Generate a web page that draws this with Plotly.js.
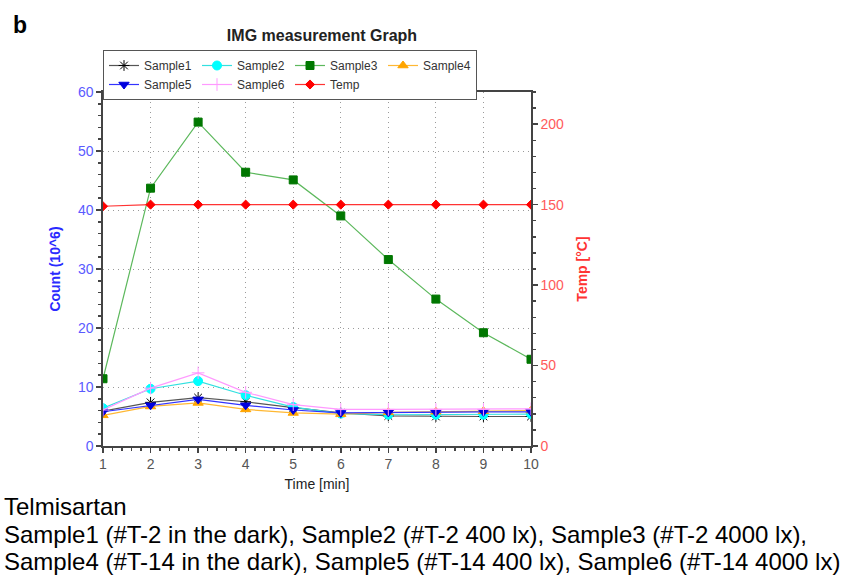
<!DOCTYPE html>
<html>
<head>
<meta charset="utf-8">
<script src="https://cdn.plot.ly/plotly-3.0.1.min.js"></script>
<style>html,body{margin:0;padding:0;background:#fff;}#chart{width:857px;height:577px;}</style>
</head>
<body>
<div id="chart"></div>
<script>
const time = [1, 2, 3, 4, 5, 6, 7, 8, 9, 10];
const sample1 = [5.9, 7.4, 8.2, 7.5, 6.5, 5.6, 5.1, 5.0, 5.0, 5.0];
const sample2 = [6.4, 9.7, 11.0, 8.6, 6.6, 5.5, 5.3, 5.3, 5.3, 5.4];
const sample3 = [11.4, 43.7, 54.9, 46.4, 45.1, 39.0, 31.6, 24.9, 19.2, 14.7];
const sample4 = [5.2, 6.7, 7.3, 6.2, 5.6, 5.4, 5.7, 5.8, 5.9, 6.0];
const sample5 = [5.8, 6.9, 7.9, 6.9, 6.1, 5.6, 5.7, 5.7, 5.8, 5.8];
const sample6 = [6.1, 9.8, 12.4, 9.1, 7.0, 6.2, 6.2, 6.2, 6.2, 6.3];
const temp = [149, 150, 150, 150, 150, 150, 150, 150, 150, 150];
const names = ["Sample1", "Sample2", "Sample3", "Sample4", "Sample5", "Sample6", "Temp"];
const leftTicks = [0, 10, 20, 30, 40, 50, 60];
const rightTicks = [0, 50, 100, 150, 200];

const FONT = "Liberation Sans, Arial, sans-serif";

function tr(name, y, lineColor, mColor, symbol, size, axis, lineW) {
  return {
    x: time, y: y, name: name, type: "scatter", mode: "lines+markers",
    yaxis: axis || "y",
    line: {color: lineColor, width: lineW || 1.2},
    marker: {color: mColor, symbol: symbol, size: size, line: {color: mColor, width: 1}}
  };
}

const data = [
  tr(names[0], sample1, "#555555", "#000000", "asterisk-open", 9),
  tr(names[1], sample2, "#33e0e0", "#00ffff", "circle", 9),
  tr(names[2], sample3, "#5cb85c", "#007700", "square", 8),
  tr(names[3], sample4, "#ffb833", "#ffa500", "triangle-up", 9),
  tr(names[4], sample5, "#3333ff", "#0000dd", "triangle-down", 9),
  tr(names[5], sample6, "#ff99ff", "#ff99ff", "cross-thin-open", 9),
  tr(names[6], temp, "#ff3333", "#ff0000", "diamond", 7, "y2")
];

const W = 857, H = 577, L = 103, R = 531, T = 92, B = 446;
const pw = R - L, ph = B - T;
const px = v => (v - L) / pw;
const py = v => (B - v) / ph;

const GRID = {showgrid: true, gridcolor: "#9a9a9a", griddash: "1px,4px", gridwidth: 1};
const AX = {showline: true, linecolor: "#444", linewidth: 1.6, ticks: "outside", ticklen: 5, tickcolor: "#444", tickwidth: 1.5, zeroline: false};
// companion axes: same scales, ticks drawn inside so the ticks cross the axis lines
const INNER = {showline: false, showgrid: false, zeroline: false, showticklabels: false,
               ticks: "inside", ticklen: 4, tickcolor: "#444", tickwidth: 1.5};

const layout = {
  width: W, height: H,
  margin: {l: L, r: W - R, t: T, b: H - B, pad: 0},
  paper_bgcolor: "#ffffff", plot_bgcolor: "#ffffff",
  font: {family: FONT, size: 12, color: "#444"},
  title: {text: "IMG measurement Graph", x: 322 / W, xanchor: "center", y: 1 - 35 / H, yanchor: "middle",
          font: {family: FONT, size: 16, color: "#222", weight: "bold"}},
  showlegend: true,
  legend: {
    orientation: "h", x: 0, xanchor: "left", y: py(50), yanchor: "top",
    bordercolor: "#555", borderwidth: 1, bgcolor: "#fff",
    font: {family: FONT, size: 12, color: "#333"},
    entrywidth: 48, itemwidth: 30, tracegroupgap: 0, traceorder: "normal"
  },
  xaxis: Object.assign({}, AX, GRID, {
    range: [1, 10], tickmode: "array", tickvals: time, ticktext: time.map(String),
    mirror: true,
    minor: {dtick: 0.2, ticks: "outside", ticklen: 3, tickcolor: "#444", showgrid: false},
    tickfont: {family: FONT, size: 14, color: "#555"},
    title: {text: "Time [min]", standoff: 8, font: {family: FONT, size: 14, color: "#222"}}
  }),
  xaxis2: Object.assign({}, INNER, {
    range: [1, 10], overlaying: "x", anchor: "y", side: "bottom",
    tickmode: "array", tickvals: time,
    minor: {dtick: 0.2, ticks: "inside", ticklen: 3, tickcolor: "#444", showgrid: false}
  }),
  yaxis: Object.assign({}, AX, GRID, {
    range: [0, 60], tickmode: "array", tickvals: leftTicks, ticktext: leftTicks.map(String),
    minor: {dtick: 2, ticks: "outside", ticklen: 3, tickcolor: "#444", showgrid: false},
    tickfont: {family: FONT, size: 14, color: "#5a5aff"},
    title: {text: "Count (10^6)", standoff: 14, font: {family: FONT, size: 14, color: "#2a2aff", weight: "bold"}}
  }),
  yaxis2: Object.assign({}, AX, {
    range: [0, 220], overlaying: "y", side: "right", anchor: "x",
    tickmode: "array", tickvals: rightTicks, ticktext: rightTicks.map(String),
    minor: {dtick: 10, ticks: "outside", ticklen: 3, tickcolor: "#444", showgrid: false},
    showgrid: false,
    tickfont: {family: FONT, size: 14, color: "#ff5a5a"},
    title: {text: "Temp [°C]", standoff: 14, font: {family: FONT, size: 14, color: "#ff3333", weight: "bold"}}
  }),
  yaxis3: Object.assign({}, INNER, {
    range: [0, 60], overlaying: "y", side: "left", anchor: "x",
    tickmode: "array", tickvals: leftTicks,
    minor: {dtick: 2, ticks: "inside", ticklen: 3, tickcolor: "#444", showgrid: false}
  }),
  yaxis4: Object.assign({}, INNER, {
    range: [0, 220], overlaying: "y", side: "right", anchor: "x",
    tickmode: "array", tickvals: rightTicks,
    minor: {dtick: 10, ticks: "inside", ticklen: 3, tickcolor: "#444", showgrid: false}
  }),
  annotations: [
    {text: "b", xref: "paper", yref: "paper", x: px(11), y: py(25), xanchor: "left", yanchor: "middle",
     showarrow: false, font: {family: FONT, size: 23, color: "#000", weight: "bold"}},
    {text: "Telmisartan", xref: "paper", yref: "paper", x: px(2), y: py(506), xanchor: "left", yanchor: "middle",
     showarrow: false, font: {family: FONT, size: 24, color: "#000"}},
    {text: "Sample1 (#T-2 in the dark), Sample2 (#T-2 400 lx), Sample3 (#T-2 4000 lx),", xref: "paper", yref: "paper",
     x: px(2), y: py(534), xanchor: "left", yanchor: "middle", showarrow: false, font: {family: FONT, size: 24, color: "#000"}},
    {text: "Sample4 (#T-14 in the dark), Sample5 (#T-14 400 lx), Sample6 (#T-14 4000 lx)", xref: "paper", yref: "paper",
     x: px(2), y: py(561), xanchor: "left", yanchor: "middle", showarrow: false, font: {family: FONT, size: 24, color: "#000"}}
  ]
};

Plotly.newPlot("chart", data, layout, {staticPlot: true, displayModeBar: false});
</script>
</body>
</html>
